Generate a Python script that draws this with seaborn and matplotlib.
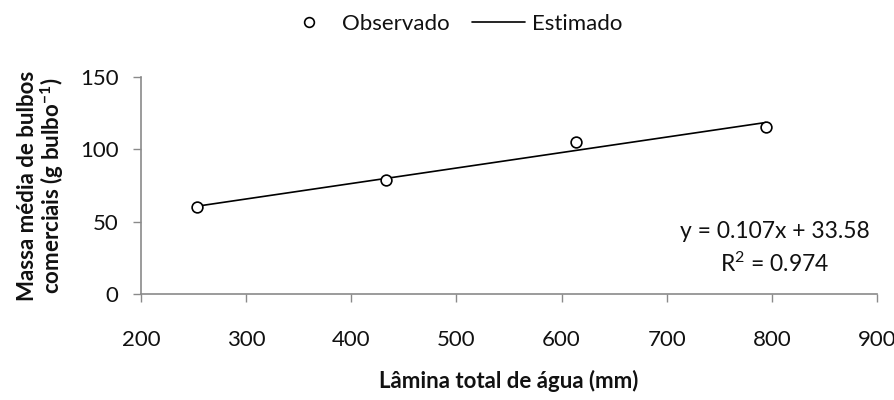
import numpy as np
import pandas as pd
import matplotlib
matplotlib.use("Agg")
import matplotlib.pyplot as plt
from matplotlib.lines import Line2D
import seaborn as sns

# Observed mean commercial bulb mass vs. total applied water depth
lamina = [253, 433, 614, 794]
massa = [60.3, 78.5, 105.0, 115.5]

# Fitted linear model
slope = 0.107
intercept = 33.58
r2 = 0.974

x_ticks = [200, 300, 400, 500, 600, 700, 800, 900]
y_ticks = [0, 50, 100, 150]

sns.set_theme(style="white")
plt.rcParams["font.family"] = ["Lato", "DejaVu Sans"]
plt.rcParams["mathtext.fontset"] = "custom"
plt.rcParams["mathtext.rm"] = "Lato"
plt.rcParams["mathtext.it"] = "Lato:italic"
plt.rcParams["mathtext.bf"] = "Lato:bold"

obs = pd.DataFrame({"lamina": lamina, "massa": massa})
fit = pd.DataFrame({"lamina": [min(lamina), max(lamina)]})
fit["massa"] = slope * fit["lamina"] + intercept

fig = plt.figure(figsize=(8.95, 4.0), dpi=100)
ax = fig.add_axes([0.1575, 0.265, 0.8225, 0.5425])

sns.lineplot(data=fit, x="lamina", y="massa", ax=ax, color="black", linewidth=1.2)
sns.scatterplot(data=obs, x="lamina", y="massa", ax=ax, s=60, marker="o",
                facecolor="white", edgecolor="black", linewidth=1.2, zorder=3)

ax.set_xlim(200, 900)
ax.set_ylim(0, 150)
ax.set_xticks(x_ticks)
ax.set_yticks(y_ticks)
ax.tick_params(axis="both", labelsize=16, direction="out", length=6, width=1,
               color="#8a8a8a", labelcolor="#111111", bottom=True, left=True)
ax.tick_params(axis="x", pad=20)
ax.tick_params(axis="y", pad=10)
for side in ["top", "right"]:
    ax.spines[side].set_visible(False)
for side in ["left", "bottom"]:
    ax.spines[side].set_color("#8a8a8a")
    ax.spines[side].set_linewidth(1.2)

ax.set_xlabel("Lâmina total de água (mm)", fontsize=16, fontweight="bold", labelpad=14,
              color="#111111")
ax.set_ylabel("Massa média de bulbos\ncomerciais (g bulbo$^{\\mathbf{-1}}$)", fontsize=16,
              fontweight="bold", labelpad=10, linespacing=1.05, color="#111111")

ax.text(803, 43, f"y = {slope}x + {intercept}", ha="center", va="center", fontsize=16.5,
        color="#111111")
ax.text(803, 21, f"R$^2$ = {r2}", ha="center", va="center", fontsize=16.5, color="#111111")

handles = [
    Line2D([], [], marker="o", linestyle="none", markerfacecolor="white",
           markeredgecolor="black", markersize=7, markeredgewidth=1.2),
    Line2D([], [], color="black", linewidth=1.2),
]
fig.legend(handles, ["Observado", "Estimado"], loc="center", bbox_to_anchor=(0.505, 0.94),
           ncol=2, frameon=False, fontsize=16, handlelength=2.4, columnspacing=1.0,
           handletextpad=0.3, labelcolor="#111111")

fig.savefig("out.png", dpi=100)
